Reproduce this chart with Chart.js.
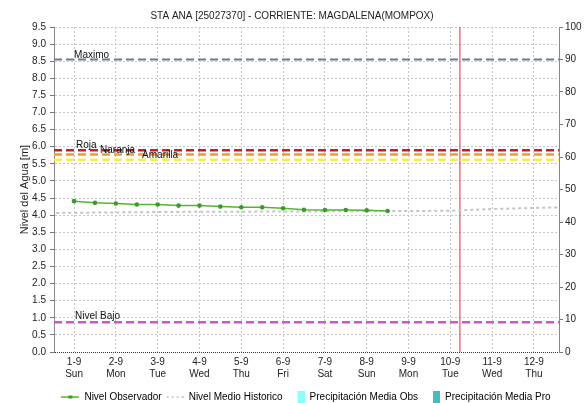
<!DOCTYPE html>
<html>
<head>
<meta charset="utf-8">
<title>STA ANA - Nivel del Agua</title>
<script src="https://cdn.jsdelivr.net/npm/chart.js@4.4.0/dist/chart.umd.min.js"></script>
<style>
    html, body { margin: 0; padding: 0; background: #fff; }
    #wrap { width: 584px; height: 403px; }
</style>
</head>
<body>
<div id="wrap"><canvas id="chart" width="584" height="403"></canvas></div>
<script>
// ----- DATA ----- //
const dayLabels = ['1-9', '2-9', '3-9', '4-9', '5-9', '6-9', '7-9', '8-9', '9-9', '10-9', '11-9', '12-9'];
const weekdayLabels = ['Sun', 'Mon', 'Tue', 'Wed', 'Thu', 'Fri', 'Sat', 'Sun', 'Mon', 'Tue', 'Wed', 'Thu'];

// observed level, every 12 hours (day index from 1-9)
const obsDays = [0, 0.5, 1, 1.5, 2, 2.5, 3, 3.5, 4, 4.5, 5, 5.5, 6, 6.5, 7, 7.5];
const obsLevels = [4.41, 4.36, 4.34, 4.31, 4.31, 4.28, 4.28, 4.25, 4.23, 4.23, 4.20, 4.16, 4.15, 4.15, 4.14, 4.12];

// historic mean level, one value per day
const histDays = [-1, 0, 1, 2, 3, 4, 5, 6, 7, 8, 9, 10, 11, 12];
const histLevels = [4.06, 4.07, 4.08, 4.09, 4.10, 4.10, 4.11, 4.11, 4.12, 4.12, 4.13, 4.18, 4.21, 4.24];

// alert thresholds [m]
const thresholdNames = ['Maximo', 'Roja', 'Naranja', 'Amarilla', 'Nivel Bajo'];
const thresholdLevels = [8.55, 5.90, 5.77, 5.62, 0.87];
const thresholdColors = ['#6b7a99', '#c81e2a', '#ee9a30', '#f2ec58', '#cc55cc'];

// current time marker (day index)
const nowDay = 9.23;

// axes
const levelMin = 0, levelMax = 9.5, levelStep = 0.5;
const precipMin = 0, precipMax = 100, precipStep = 10;

// precipitation series (no data in this period)
const precipObs = [];
const precipPro = [];

// ----- LAYOUT ----- //
const X_MIN = -0.48, X_MAX = 11.6;
const FONT = '"Liberation Sans", Arial, sans-serif';

Chart.defaults.font.family = FONT;
Chart.defaults.font.size = 10;
Chart.defaults.color = '#222';

function makeIcon(draw) {
    const c = document.createElement('canvas');
    c.width = 18;
    c.height = 12;
    draw(c.getContext('2d'));
    return c;
}

const legendIcons = [
    makeIcon(g => {
        g.strokeStyle = '#55b531'; g.lineWidth = 1.5;
        g.beginPath(); g.moveTo(0, 6); g.lineTo(18, 6); g.stroke();
        g.fillStyle = '#3c9a2a'; g.fillRect(7, 4.5, 4, 3);
    }),
    makeIcon(g => {
        g.strokeStyle = '#c4c4c4'; g.lineWidth = 1.5; g.setLineDash([2, 3]);
        g.beginPath(); g.moveTo(1, 6); g.lineTo(18, 6); g.stroke();
    }),
    makeIcon(g => { g.fillStyle = '#88ffff'; g.fillRect(11, 0, 7, 12); }),
    makeIcon(g => { g.fillStyle = '#44bcbc'; g.fillRect(11, 0, 7, 12); })
];

// threshold line datasets
const thresholdSets = thresholdNames.map((name, i) => ({
    type: 'line',
    label: name,
    data: [{ x: X_MIN, y: thresholdLevels[i] }, { x: X_MAX, y: thresholdLevels[i] }],
    borderColor: thresholdColors[i],
    borderWidth: i === 0 ? 2 : 2.5,
    borderDash: [8, 4],
    pointRadius: 0,
    yAxisID: 'y'
}));

// text next to threshold lines
const labelDx = [0, 2, 26, 68, 1];
const labelDy = [-4, -5, -4, -4, -6];
const thresholdLabels = {
    id: 'thresholdLabels',
    afterDatasetsDraw(chart) {
        const { ctx, scales: { x, y } } = chart;
        ctx.save();
        ctx.font = '10px ' + FONT;
        ctx.fillStyle = '#111';
        ctx.textBaseline = 'middle';
        thresholdNames.forEach((name, i) => {
            ctx.fillText(name, x.getPixelForValue(0) + labelDx[i], y.getPixelForValue(thresholdLevels[i]) + labelDy[i]);
        });
        ctx.restore();
    }
};

// nudge legend into place
const legendShift = {
    id: 'legendShift',
    afterLayout(chart) {
        const lg = chart.legend;
        lg.left += 14; lg.right += 14;
        lg.top += 9; lg.bottom += 9;
    }
};

new Chart(document.getElementById('chart'), {
    type: 'line',
    data: {
        datasets: [
            {
                label: 'Nivel Observador',
                data: obsDays.map((d, i) => ({ x: d, y: obsLevels[i] })),
                borderColor: '#55b531',
                borderWidth: 1.5,
                pointRadius: 2.3,
                pointBackgroundColor: '#3c9a2a',
                pointBorderWidth: 0,
                yAxisID: 'y'
            },
            {
                label: 'Nivel Medio Historico',
                data: histDays.map((d, i) => ({ x: d, y: histLevels[i] })),
                borderColor: '#c4c4c4',
                borderWidth: 2,
                borderDash: [3, 3],
                pointRadius: 0,
                yAxisID: 'y'
            },
            {
                type: 'bar',
                label: 'Precipitación Media Obs',
                data: precipObs,
                backgroundColor: '#88ffff',
                yAxisID: 'y2'
            },
            {
                type: 'bar',
                label: 'Precipitación Media Pro',
                data: precipPro,
                backgroundColor: '#44bcbc',
                yAxisID: 'y2'
            },
            ...thresholdSets,
            {
                label: 'now',
                data: [{ x: nowDay, y: levelMin }, { x: nowDay, y: levelMax }],
                borderColor: '#cc3a3a',
                borderWidth: 1,
                pointRadius: 0,
                yAxisID: 'y'
            }
        ]
    },
    options: {
        responsive: false,
        animation: false,
        events: [],
        layout: { padding: 0 },
        plugins: {
            title: {
                display: true,
                text: 'STA ANA [25027370] - CORRIENTE: MAGDALENA(MOMPOX)',
                font: { size: 10, weight: 'normal' },
                color: '#222',
                padding: { top: 10, bottom: 5 }
            },
            legend: {
                position: 'bottom',
                labels: {
                    usePointStyle: true,
                    pointStyleWidth: 18,
                    padding: 4,
                    font: { size: 10 },
                    color: '#222',
                    generateLabels: chart => legendIcons.map((icon, i) => ({
                        text: chart.data.datasets[i].label,
                        pointStyle: icon,
                        datasetIndex: i,
                        hidden: false,
                        lineWidth: 0,
                        strokeStyle: 'transparent',
                        fillStyle: 'transparent'
                    }))
                }
            },
            tooltip: { enabled: false }
        },
        scales: {
            x: {
                type: 'linear',
                offset: false,
                min: X_MIN,
                max: X_MAX,
                afterBuildTicks: scale => { scale.ticks = dayLabels.map((_, i) => ({ value: i })); },
                afterFit: scale => { scale.height = 27; },
                ticks: {
                    padding: 4,
                    maxRotation: 0,
                    autoSkip: false,
                    callback: v => [dayLabels[v], weekdayLabels[v]]
                },
                grid: { color: '#c8c8c8', drawTicks: false, offset: false },
                border: { display: false, dash: [2, 2] }
            },
            y: {
                position: 'left',
                min: levelMin,
                max: levelMax,
                afterFit: scale => { scale.width = 54; },
                ticks: {
                    stepSize: levelStep,
                    padding: 4,
                    callback: v => v.toFixed(1)
                },
                title: {
                    display: true,
                    text: 'Nivel del Agua [m]',
                    font: { size: 11 },
                    color: '#222',
                    padding: { top: 18, bottom: 0 }
                },
                grid: {
                    color: ctx => (ctx.tick && ctx.tick.value === 0) ? '#333' : '#c8c8c8',
                    tickLength: 4,
                    tickColor: '#777'
                },
                border: {
                    color: '#888',
                    dash: ctx => (ctx.tick && ctx.tick.value === 0) ? [1, 1] : [2, 2]
                }
            },
            y2: {
                position: 'right',
                min: precipMin,
                max: precipMax,
                afterFit: scale => { scale.width = 25; },
                ticks: { stepSize: precipStep, padding: 2 },
                grid: { drawOnChartArea: false, tickLength: 4, tickColor: '#777' },
                border: { color: '#888' }
            }
        }
    },
    plugins: [thresholdLabels, legendShift]
});
</script>
</body>
</html>
